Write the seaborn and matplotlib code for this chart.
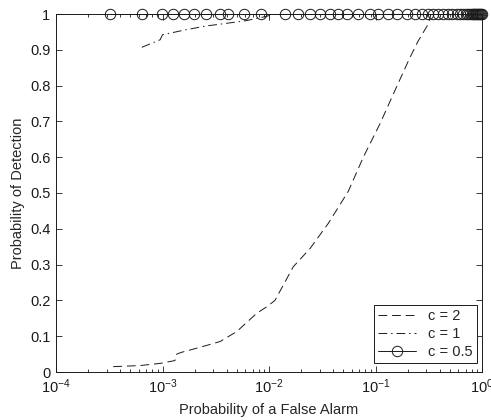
import matplotlib
matplotlib.use("Agg")
import matplotlib.pyplot as plt
import matplotlib.ticker as mticker
import numpy as np
import pandas as pd
import seaborn as sns

# ROC curve data: probability of false alarm vs probability of detection
pfa_c2 = [3.45e-4, 6.15e-4, 9.48e-4, 1.31e-3, 1.36e-3, 1.51e-3, 2.25e-3, 3.47e-3,
          4.98e-3, 7.67e-3, 9.51e-3, 0.01138, 0.0169, 0.0243, 0.0360, 0.0556,
          0.0768, 0.110, 0.152, 0.211, 0.252, 0.313, 0.332, 1.0]
pd_c2 = [0.015, 0.018, 0.024, 0.032, 0.050, 0.055, 0.069, 0.085,
         0.113, 0.164, 0.182, 0.200, 0.294, 0.345, 0.415, 0.505,
         0.600, 0.693, 0.786, 0.879, 0.925, 0.972, 1.0, 1.0]

pfa_c1 = [6.4e-4, 9.5e-4, 1.0e-3, 1.6e-3, 2.5e-3, 4.0e-3, 6.0e-3, 9.0e-3, 0.0115, 1.0]
pd_c1 = [0.907, 0.928, 0.942, 0.955, 0.966, 0.974, 0.981, 0.992, 1.0, 1.0]

pfa_c05 = [3.2e-4, 6.4e-4, 9.8e-4, 1.26e-3, 1.59e-3, 1.98e-3, 2.55e-3, 3.47e-3,
           4.15e-3, 5.8e-3, 8.5e-3, 0.0141, 0.0187, 0.0243, 0.0301, 0.0374,
           0.0445, 0.054, 0.069, 0.088, 0.105, 0.131, 0.159, 0.198, 0.235,
           0.273, 0.311, 0.347, 0.386, 0.431, 0.48, 0.523, 0.582, 0.621,
           0.663, 0.70, 0.74, 0.77, 0.80, 0.82, 0.84, 0.86, 0.88, 0.90,
           0.92, 0.94, 0.96, 0.98, 1.0]
pd_c05 = [1.0] * len(pfa_c05)

series_labels = ["c = 2", "c = 1", "c = 0.5"]
y_ticks = [0, 0.1, 0.2, 0.3, 0.4, 0.5, 0.6, 0.7, 0.8, 0.9, 1.0]
y_tick_labels = ["0", "0.1", "0.2", "0.3", "0.4", "0.5", "0.6", "0.7", "0.8", "0.9", "1"]
x_ticks = [1e-4, 1e-3, 1e-2, 1e-1, 1e0]

sns.set_theme(style="ticks")
plt.rcParams["font.family"] = ["Liberation Sans", "DejaVu Sans"]
plt.rcParams["mathtext.fontset"] = "custom"
plt.rcParams["mathtext.rm"] = "Liberation Sans"
plt.rcParams["mathtext.it"] = "Liberation Sans"

fig = plt.figure(figsize=(4.91, 4.20), dpi=100)
ax = fig.add_axes([56 / 491, 1 - 372 / 420, 426 / 491, 358 / 420])

sns.lineplot(x=pfa_c2, y=pd_c2, ax=ax, color="k", lw=0.7,
             linestyle=(0, (9, 5)), estimator=None, sort=False,
             label=series_labels[0])
sns.lineplot(x=pfa_c1, y=pd_c1, ax=ax, color="k", lw=0.7,
             linestyle=(0, (9, 4, 1.5, 4)), estimator=None, sort=False,
             label=series_labels[1])
sns.lineplot(x=pfa_c05, y=pd_c05, ax=ax, color="k", lw=0.7,
             marker="o", markersize=7.5, markerfacecolor="none",
             markeredgecolor="k", markeredgewidth=0.7,
             estimator=None, sort=False, label=series_labels[2],
             clip_on=False, zorder=5)

ax.set_xscale("log")
ax.set_xlim(1e-4, 1)
ax.set_ylim(0, 1)
ax.set_xticks(x_ticks)
ax.xaxis.set_minor_locator(mticker.LogLocator(base=10, subs=np.arange(2, 10), numticks=20))
ax.xaxis.set_minor_formatter(mticker.NullFormatter())
ax.set_yticks(y_ticks)
ax.set_yticklabels(y_tick_labels)

for side in ["top", "right", "left", "bottom"]:
    ax.spines[side].set_visible(True)
    ax.spines[side].set_linewidth(0.7)
    ax.spines[side].set_color("k")

ax.tick_params(which="both", direction="in", top=True, right=True,
               colors="k", labelsize=10.5, width=0.6)
ax.tick_params(which="major", length=4.5, pad=4)
ax.tick_params(which="minor", length=2.5)

ax.set_xlabel("Probability of a False Alarm", fontsize=10.5, labelpad=5)
ax.set_ylabel("Probability of Detection", fontsize=10.5, labelpad=4)

leg = ax.legend(loc="lower right", bbox_to_anchor=(0.988, 0.025),
                borderaxespad=0, fancybox=False, framealpha=1,
                edgecolor="k", fontsize=10.5, handlelength=2.6,
                handletextpad=0.8, labelspacing=0.25, borderpad=0.3)
leg.get_frame().set_linewidth(0.7)

fig.savefig("out.png", dpi=100)
